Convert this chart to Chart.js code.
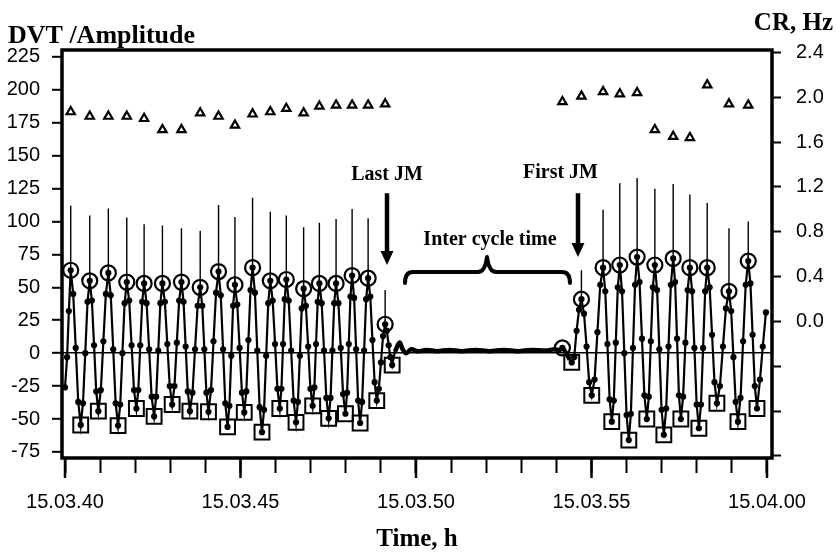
<!DOCTYPE html>
<html><head><meta charset="utf-8">
<script src="https://cdn.jsdelivr.net/npm/chart.js@4.4.1/dist/chart.umd.min.js"></script>
<style>html,body{margin:0;padding:0;background:#fff}canvas{display:block}</style>
</head><body>
<canvas id="c" width="840" height="559"></canvas>
<script>
// ---- DATA (time in seconds after 15:03:00) ----
const labelSeconds = [40, 45, 50, 55, 60];
const timeLabels = ['15.03.40', '15.03.45', '15.03.50', '15.03.55', '15.04.00'];

// jaw-movement peaks (circles) and spike tops
const peakTime = [40.163, 40.705, 41.235, 41.760, 42.254, 42.776, 43.318, 43.852, 44.374, 44.842,
  45.344, 45.849, 46.305, 46.799, 47.247, 47.723, 48.180, 48.636, 49.121,
  54.171, 54.713, 55.330, 55.806, 56.300, 56.805, 57.327, 57.803, 58.297, 58.916, 59.466];
const peakAmp = [63, 55, 61, 54, 53, 53, 54, 50, 62, 52, 65, 55, 56, 49, 53, 53, 59, 57, 22,
  4, 41, 65, 67, 73, 67, 72, 65, 65, 47, 70];
const spikeTop = [112, 104.5, 110, 103, 98, 97, 95, 93, 112.5, 103.5, 118, 107.5, 104.5, 95.7, 99, 102, 109.5, 102.5, 48,
  null, 63, 109, 129, 133, 125, 128.5, 120.5, 114, 95, 100];

// troughs (squares)
const troughTime = [40.448, 40.950, 41.512, 42.034, 42.539, 43.053, 43.558, 44.088, 44.631, 45.107,
  45.612, 46.120, 46.582, 47.056, 47.512, 47.989, 48.408, 48.882, 49.321,
  54.437, 55.007, 55.578, 56.063, 56.576, 57.061, 57.546, 58.060, 58.573, 59.172, 59.715];
const troughAmp = [-54.5, -44, -55, -42, -48, -39, -44, -44.5, -56, -45, -60, -42, -52.5, -40, -49.5, -46, -53, -36, -9,
  -7, -32, -52, -66, -50, -62, -50, -57, -38, -52, -42];

// chewing rate CR, Hz (triangles, right axis), one per cycle
const crRate = [1.87, 1.83, 1.83, 1.83, 1.81, 1.71, 1.71, 1.86, 1.83, 1.75, 1.85, 1.87, 1.90, 1.86, 1.92, 1.93, 1.93, 1.93, 1.94,
  1.96, 2.01, 2.05, 2.03, 2.04, 1.71, 1.65, 1.64, 2.11, 1.94, 1.93];

// sampled points on the strokes between peaks and troughs
const strokeDots = [
  [40.00,-26],[40.06,-3],[40.11,32],
  [40.234,45],[40.306,4],[40.377,-37],[40.512,-38],[40.577,0],[40.641,39],
  [40.766,40],[40.828,6],[40.889,-29],[41.021,-28],[41.093,9],[41.164,45],
  [41.304,44],[41.374,3],[41.443,-38],[41.574,-39],[41.636,0],[41.698,38],
  [41.829,40],[41.897,6],[41.966,-28],[42.089,-28],[42.144,6],[42.199,39],
  [42.325,38],[42.397,3],[42.468,-33],[42.598,-33],[42.657,2],[42.717,38],
  [42.845,39],[42.915,7],[42.984,-25],[43.119,-25],[43.186,8],[43.252,40],
  [43.378,39],[43.438,5],[43.498,-29],[43.632,-30],[43.705,3],[43.779,36],
  [43.911,36],[43.970,3],[44.029,-30],[44.160,-28],[44.231,9],[44.303,46],
  [44.438,44],[44.503,3],[44.567,-38],[44.684,-40],[44.737,-2],[44.789,36],
  [44.908,37],[44.975,4],[45.041,-30],[45.166,-29],[45.226,10],[45.285,48],
  [45.411,46],[45.478,2],[45.545,-41],[45.671,-43],[45.731,-2],[45.790,38],
  [45.917,40],[45.985,7],[46.052,-27],[46.166,-27],[46.213,7],[46.259,41],
  [46.374,40],[46.444,2],[46.513,-36],[46.636,-37],[46.691,-2],[46.745,34],
  [46.863,36],[46.928,5],[46.992,-27],[47.104,-26],[47.152,7],[47.199,39],
  [47.313,38],[47.380,2],[47.446,-34],[47.565,-34],[47.618,2],[47.670,38],
  [47.790,38],[47.856,4],[47.922,-31],[48.037,-30],[48.085,7],[48.132,43],
  [48.237,42],[48.294,3],[48.351,-36],[48.465,-37],[48.522,2],[48.579,41],
  [48.698,43],[48.759,10],[48.821,-22],[48.942,-27],[49.002,-7],[49.061,13],
  [49.171,17],[49.221,6],[49.271,-3],
  [54.506,-3],[54.575,17],[54.644,33],
  [54.787,30],[54.860,5],[54.934,-22],[55.088,-20],[55.169,16],[55.249,52],
  [55.392,47],[55.454,7],[55.516,-35],[55.635,-36],[55.692,8],[55.749,50],
  [55.870,47],[55.935,0],[55.999,-47],[56.122,-46],[56.182,4],[56.241,52],
  [56.369,54],[56.438,11],[56.507,-32],[56.633,-33],[56.691,9],[56.748,50],
  [56.869,48],[56.933,3],[56.997,-43],[57.128,-42],[57.194,5],[57.261,52],
  [57.382,54],[57.437,11],[57.491,-32],[57.610,-33],[57.675,8],[57.739,48],
  [57.867,47],[57.932,4],[57.996,-39],[58.119,-39],[58.179,4],[58.238,47],
  [58.366,50],[58.435,14],[58.504,-22],[58.659,-25],[58.745,5],[58.830,34],
  [58.980,32],[59.044,-3],[59.108,-37],[59.246,-34],[59.319,9],[59.393,52],
  [59.528,53],[59.590,14],[59.653,-25],[59.80,-20],[59.88,5],[59.97,31]
];

// resting signal between the two chewing bouts
const restLine = [[49.40,1],[49.53,8],[49.62,3],[49.72,0],[49.86,3],[50.05,1.5],[50.30,2.5],[50.60,1.5],
  [50.95,2.5],[51.30,1.5],[51.70,2.5],[52.10,1.5],[52.50,2.5],[52.90,1.5],[53.30,2.5],[53.70,2],
  [53.95,3],[54.10,2.5],[54.17,4],[54.30,-1],[54.38,-5]];

// annotations (data coordinates)
const arrowNotes = [
  {text: 'Last JM', t: 49.174, from: 121.5, to: 67, textT: 49.174, textY: 131.6, align: 'center'},
  {text: 'First JM', t: 54.615, from: 121.5, to: 73, textT: 55.185, textY: 133, align: 'right'}
];
const braceNote = {text: 'Inter cycle time', textT: 52.108, textY: 82,
  left: 49.687, right: 54.387, tip: 52.023, endY: 53.4, barY: 61.7, tipY: 73.1};

// ---- BUILD ----
const wavePts = [];
peakTime.forEach((t, i) => wavePts.push({x: t, y: peakAmp[i]}));
troughTime.forEach((t, i) => wavePts.push({x: t, y: troughAmp[i]}));
strokeDots.forEach(([t, v]) => wavePts.push({x: t, y: v}));
restLine.forEach(([t, v]) => wavePts.push({x: t, y: v, rest: true}));
wavePts.sort((a, b) => a.x - b.x);

const spikePts = [];
peakTime.forEach((t, i) => {
  if (spikeTop[i] != null) spikePts.push({x: t, y: peakAmp[i]}, {x: t, y: spikeTop[i]}, {x: t, y: null});
});

const sansFont = '"Liberation Sans", Arial, sans-serif';
const serifFont = '"Liberation Serif", "Times New Roman", serif';

const decor = {
  id: 'decor',
  afterDraw(chart) {
    const {ctx, chartArea: a} = chart;
    const x = chart.scales.x, y = chart.scales.y;
    ctx.save();
    ctx.strokeStyle = '#000'; ctx.fillStyle = '#000';
    // frame
    ctx.lineWidth = 3.5;
    ctx.strokeRect(a.left, a.top, a.right - a.left, a.bottom - a.top);
    // longer major ticks
    ctx.lineWidth = 2.5;
    labelSeconds.forEach(s => {
      const px = x.getPixelForValue(s);
      ctx.beginPath(); ctx.moveTo(px, a.bottom); ctx.lineTo(px, a.bottom + 20); ctx.stroke();
    });
    // axis titles
    ctx.textBaseline = 'alphabetic';
    ctx.textAlign = 'left';
    ctx.font = 'bold 26px ' + serifFont;
    ctx.fillText('DVT /Amplitude', 8, 43);
    ctx.textAlign = 'right';
    ctx.font = 'bold 25px ' + serifFont;
    ctx.fillText('CR, Hz', 833, 30);
    // arrows
    ctx.font = 'bold 20px ' + serifFont;
    arrowNotes.forEach(n => {
      const px = x.getPixelForValue(n.t);
      const y1 = y.getPixelForValue(n.from), y2 = y.getPixelForValue(n.to);
      ctx.lineWidth = 4.5;
      ctx.beginPath(); ctx.moveTo(px, y1); ctx.lineTo(px, y2 - 12); ctx.stroke();
      ctx.beginPath(); ctx.moveTo(px - 6.5, y2 - 14); ctx.lineTo(px + 6.5, y2 - 14); ctx.lineTo(px, y2); ctx.closePath(); ctx.fill();
      ctx.textAlign = n.align;
      ctx.fillText(n.text, x.getPixelForValue(n.textT), y.getPixelForValue(n.textY));
    });
    // brace
    const L = x.getPixelForValue(braceNote.left), R = x.getPixelForValue(braceNote.right);
    const T = x.getPixelForValue(braceNote.tip);
    const yE = y.getPixelForValue(braceNote.endY), yB = y.getPixelForValue(braceNote.barY), yT = y.getPixelForValue(braceNote.tipY);
    ctx.lineWidth = 4; ctx.lineCap = 'round'; ctx.lineJoin = 'round';
    ctx.beginPath();
    ctx.moveTo(L, yE);
    ctx.quadraticCurveTo(L, yB, L + 8, yB);
    ctx.lineTo(T - 9, yB);
    ctx.quadraticCurveTo(T - 2, yB, T, yT);
    ctx.quadraticCurveTo(T + 2, yB, T + 9, yB);
    ctx.lineTo(R - 8, yB);
    ctx.quadraticCurveTo(R, yB, R, yE);
    ctx.stroke();
    ctx.font = 'bold 20px ' + serifFont;
    ctx.textAlign = 'center';
    ctx.fillText(braceNote.text, x.getPixelForValue(braceNote.textT), y.getPixelForValue(braceNote.textY));
    ctx.restore();
  }
};

new Chart(document.getElementById('c'), {
  type: 'scatter',
  data: {
    datasets: [
      {label: 'CR', yAxisID: 'y2', data: peakTime.map((t, i) => ({x: t, y: crRate[i]})),
        pointStyle: 'triangle', pointRadius: 4.8, borderWidth: 2.2, borderColor: '#000', backgroundColor: '#fff', showLine: false},
      {label: 'peaks', yAxisID: 'y', data: peakTime.map((t, i) => ({x: t, y: peakAmp[i]})),
        pointStyle: 'circle', pointRadius: 7.5, borderWidth: 2.2, borderColor: '#000', backgroundColor: 'rgba(0,0,0,0)', showLine: false},
      {label: 'troughs', yAxisID: 'y', data: troughTime.map((t, i) => ({x: t, y: troughAmp[i]})),
        pointStyle: 'rect', pointRadius: 10.5, borderWidth: 2, borderColor: '#000', backgroundColor: 'rgba(0,0,0,0)', showLine: false},
      {label: 'rest', yAxisID: 'y', data: restLine.map(([t, v]) => ({x: t, y: v})),
        showLine: true, borderColor: '#000', borderWidth: 4.5, pointRadius: 0, tension: 0.35},
      {label: 'wave', yAxisID: 'y', data: wavePts, showLine: true, borderColor: '#000', borderWidth: 2.2,
        pointRadius: c => (c.raw && c.raw.rest) ? 0 : 3.1, backgroundColor: '#000', pointBorderWidth: 0},
      {label: 'spikes', yAxisID: 'y', data: spikePts, showLine: true, spanGaps: false,
        borderColor: '#000', borderWidth: 1.4, pointRadius: 0}
    ]
  },
  options: {
    responsive: false, animation: false, events: [],
    layout: {padding: {top: 50, left: 0, right: 0, bottom: 0}},
    plugins: {legend: {display: false}, tooltip: {enabled: false}},
    scales: {
      x: {
        type: 'linear', position: 'bottom', min: 39.9145, max: 60.1425,
        afterFit: s => { s.height = 101; },
        ticks: {stepSize: 1, autoSkip: false, maxRotation: 0, includeBounds: false, padding: 17, color: '#000',
          font: {family: sansFont, size: 20},
          callback: v => { const k = labelSeconds.findIndex(s => Math.abs(s - v) < 1e-6); return k >= 0 ? timeLabels[k] : ''; }},
        grid: {drawOnChartArea: false, tickLength: 15, tickWidth: 2, tickColor: '#000'},
        border: {display: false},
        title: {display: true, text: 'Time, h', color: '#000', font: {family: serifFont, size: 25, weight: 'bold'}, padding: {top: 0, bottom: 4}}
      },
      y: {
        position: 'left', min: -79.6, max: 230.3,
        afterFit: s => { s.width = 62; },
        ticks: {stepSize: 25, includeBounds: false, padding: 12, color: '#000', font: {family: sansFont, size: 20}},
        grid: {color: c => (c.tick && c.tick.value === 0) ? '#000' : 'rgba(0,0,0,0)', lineWidth: 1.6,
          tickColor: '#000', tickLength: 10, tickWidth: 2},
        border: {display: false}
      },
      y2: {
        position: 'right', min: -1.218, max: 2.422,
        afterFit: s => { s.width = 68; },
        ticks: {stepSize: 0.2, includeBounds: false, padding: 15, color: '#000', font: {family: sansFont, size: 20},
          callback: v => v > -0.01 ? Number(v).toFixed(1) : ''},
        grid: {drawOnChartArea: false, tickColor: '#000', tickLength: 9, tickWidth: 2},
        border: {display: false}
      }
    }
  },
  plugins: [decor]
});
</script>
</body></html>
